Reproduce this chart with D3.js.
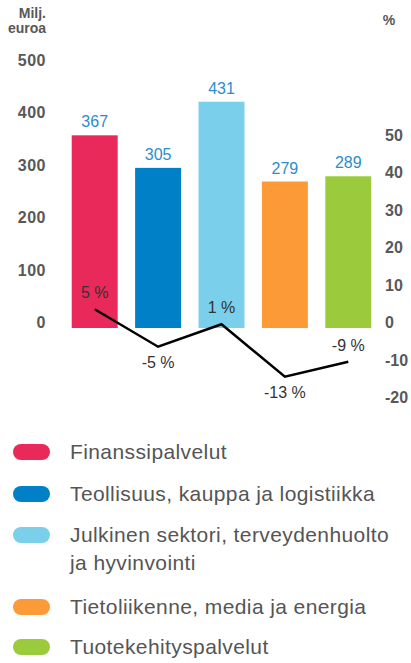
<!DOCTYPE html>
<html>
<head>
<meta charset="utf-8">
<script src="https://cdnjs.cloudflare.com/ajax/libs/d3/7.8.5/d3.min.js"></script>
<style>
  body { margin: 0; background: #fff; }
  svg text { font-family: "Liberation Sans", Arial, sans-serif; }
</style>
</head>
<body>
<div id="chart"></div>
<script>
// data
const categories = ['Finanssipalvelut', 'Teollisuus, kauppa ja logistiikka', 'Julkinen sektori, terveydenhuolto ja hyvinvointi', 'Tietoliikenne, media ja energia', 'Tuotekehityspalvelut'];
const legendLines = [['Finanssipalvelut'], ['Teollisuus, kauppa ja logistiikka'], ['Julkinen sektori, terveydenhuolto', 'ja hyvinvointi'], ['Tietoliikenne, media ja energia'], ['Tuotekehityspalvelut']];
const revenue = [367, 305, 431, 279, 289];
const growth = [5, -5, 1, -13, -9];
const leftTicks = [0, 100, 200, 300, 400, 500];
const rightTicks = [-20, -10, 0, 10, 20, 30, 40, 50];
const colors = ['#e8295a', '#0080c6', '#7acfea', '#fd9a38', '#9bcb3c'];

const W = 411, H = 663;
const svg = d3.select('#chart').append('svg')
    .attr('width', W)
    .attr('height', H);

let x = d3.scaleBand().domain(categories).range([63, 380]).paddingInner(0.275).paddingOuter(0.1375);
let y = d3.scaleLinear().domain([0, 500]).range([328, 65.5]);
let y2 = d3.scaleLinear().domain([0, 50]).range([328, 140.5]);

// left axis
svg.selectAll('.ltick')
    .data(leftTicks)
  .enter().append('text')
    .attr('x', 46)
    .attr('y', (d) => y(d))
    .attr('text-anchor', 'end')
    .attr('font-size', 16)
    .attr('font-weight', 'bold')
    .attr('letter-spacing', 0.5)
    .attr('fill', '#585858')
    .text((d) => d);

svg.append('text').attr('x', 46).attr('y', 18).attr('text-anchor', 'end')
    .attr('font-size', 14).attr('font-weight', 'bold').attr('fill', '#585858').text('Milj.');
svg.append('text').attr('x', 46).attr('y', 33).attr('text-anchor', 'end')
    .attr('font-size', 14).attr('font-weight', 'bold').attr('fill', '#585858').text('euroa');

// right axis
svg.selectAll('.rtick')
    .data(rightTicks)
  .enter().append('text')
    .attr('x', 385)
    .attr('y', (d) => y2(d))
    .attr('font-size', 16)
    .attr('font-weight', 'bold')
    .attr('fill', '#585858')
    .text((d) => d);

svg.append('text').attr('x', 389).attr('y', 25).attr('text-anchor', 'middle')
    .attr('font-size', 14).attr('font-weight', 'bold').attr('fill', '#585858').text('%');

// bars
svg.selectAll('.bar')
    .data(revenue)
  .enter().append('rect')
    .attr('class', 'bar')
    .attr('x', (d, i) => x(categories[i]))
    .attr('y', (d) => y(d))
    .attr('width', x.bandwidth())
    .attr('height', (d) => y(0) - y(d))
    .attr('fill', (d, i) => colors[i]);

svg.selectAll('.val')
    .data(revenue)
  .enter().append('text')
    .attr('x', (d, i) => x(categories[i]) + x.bandwidth() / 2)
    .attr('y', (d) => y(d) - 8)
    .attr('text-anchor', 'middle')
    .attr('font-size', 16)
    .attr('fill', '#2b8dcb')
    .text((d) => d);

// growth line
let cx = (i) => x(categories[i]) + x.bandwidth() / 2;
let line = d3.line()
    .x((d, i) => cx(i))
    .y((d) => y2(d));

svg.append('path')
    .datum(growth)
    .attr('d', line)
    .attr('fill', 'none')
    .attr('stroke', '#000')
    .attr('stroke-width', 2.5);

svg.selectAll('.pct')
    .data(growth)
  .enter().append('text')
    .attr('x', (d, i) => cx(i))
    .attr('y', (d, i) => (i === 0 || d > growth[i - 1]) ? y2(d) - 11 : y2(d) + 21)
    .attr('text-anchor', 'middle')
    .attr('font-size', 16)
    .attr('fill', '#333')
    .text((d) => d + ' %');

// legend
let rowY = [452, 494, 535, 607, 647];
let legend = svg.selectAll('.leg')
    .data(legendLines)
  .enter().append('g')
    .attr('transform', (d, i) => 'translate(0,' + rowY[i] + ')');

legend.append('rect')
    .attr('x', 13).attr('y', -8)
    .attr('width', 37).attr('height', 16)
    .attr('rx', 8)
    .attr('fill', (d, i) => colors[i]);

legend.each(function(d) {
  let t = d3.select(this).append('text')
      .attr('x', 70)
      .attr('y', 7)
      .attr('font-size', 21)
      .attr('letter-spacing', 0.4)
      .attr('fill', '#555');
  d.forEach((s, j) => {
    t.append('tspan').attr('x', 70).attr('dy', j === 0 ? 0 : 28).text(s);
  });
});
</script>
</body>
</html>
